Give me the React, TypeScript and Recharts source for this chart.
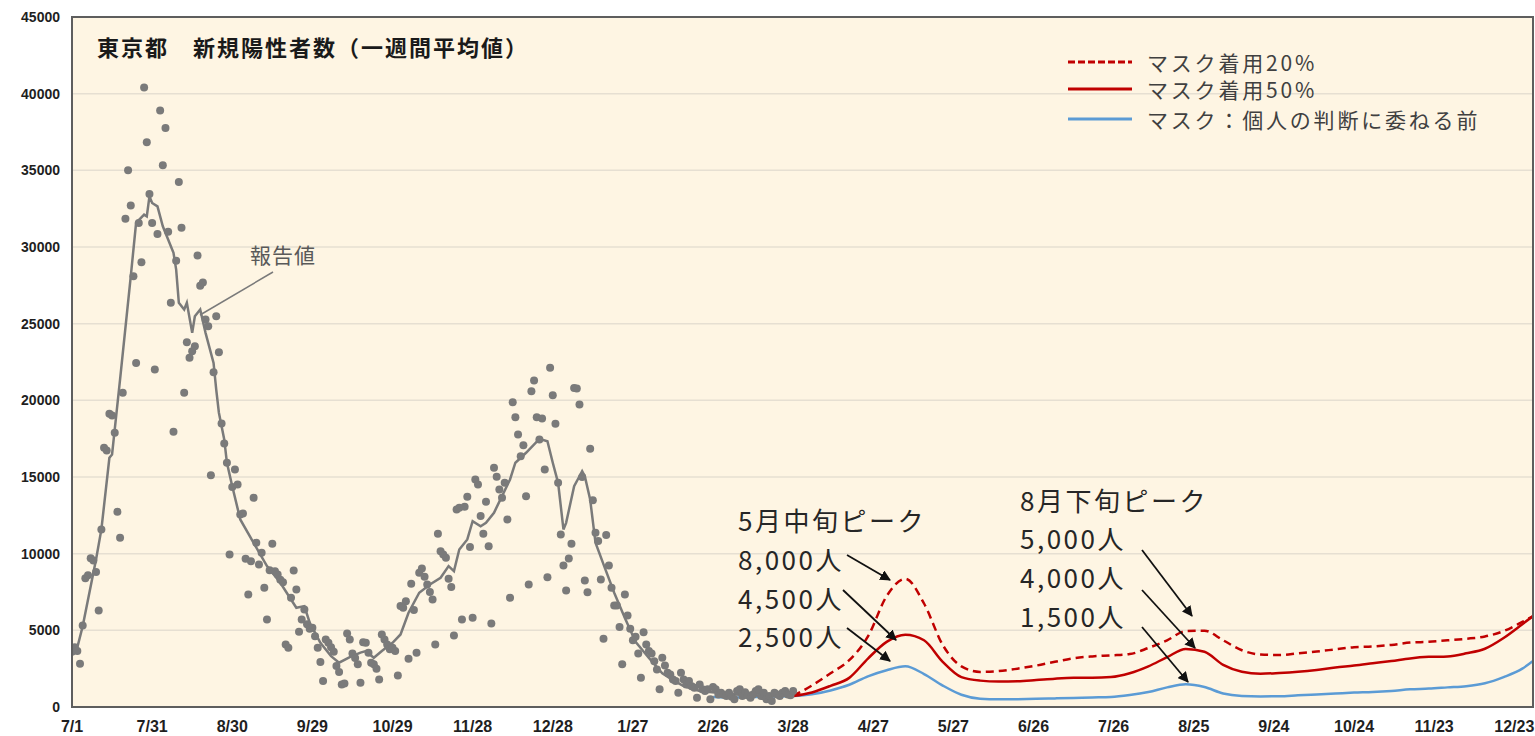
import { ComposedChart, Line, Scatter, XAxis, YAxis, CartesianGrid } from "recharts"

// x axis = days since 2022-07-01
const tickLabels = [
  "7/1", "7/31", "8/30", "9/29", "10/29", "11/28", "12/28", "1/27", "2/26", "3/28",
  "4/27", "5/27", "6/26", "7/26", "8/25", "9/24", "10/24", "11/23", "12/23",
]
const tickDays = tickLabels.map((_, i) => i * 30)
const yTicks = [0, 5000, 10000, 15000, 20000, 25000, 30000, 35000, 40000, 45000]

// 報告値: one value per day from 7/1/2022 to 3/28/2023
const reportedDaily = [
  3600, 3900, 3650, 2820, 5320, 8400, 8600, 9700, 9550, 8800,
  6300, 11580, 16900, 16730, 19120, 19010, 17880, 12730, 11040, 20490,
  31850, 35000, 32700, 28090, 22440, 31570, 29000, 40410, 36830, 33460,
  31570, 22010, 30850, 38900, 35330, 37760, 30990, 26360, 17950, 29110,
  34240, 31250, 20490, 23790, 22770, 23200, 23530, 29440, 27480, 27680,
  25270, 24830, 15120, 21830, 25480, 23140, 18490, 17180, 15930, 9950,
  14340, 15490, 14510, 12560, 12620, 9670, 7340, 9510, 13640, 10710,
  9300, 10060, 7780, 5710, 8920, 10650, 8860, 8640, 8300, 8140,
  4080, 3870, 7120, 8900, 7670, 4910, 5710, 6360, 5390, 5100,
  5170, 4620, 3870, 2930, 1690, 4410, 4190, 3900, 3600, 2670,
  2280, 1470, 1540, 4800, 4410, 3490, 3200, 2780, 1580, 4230,
  4190, 3540, 2890, 2780, 2500, 1800, 4730, 4410, 4080, 3760,
  3870, 3650, 2060, 6580, 6470, 6900, 3150, 8040, 6320, 3540,
  8760, 9040, 8500, 7990, 7500, 7010, 4080, 11300, 10160, 9950,
  9730, 8360, 7820, 4670, 12880, 12990, 5710, 13060, 13710, 10430,
  5820, 14840, 14510, 12450, 11300, 13380, 10490, 5450, 15600, 15010,
  14190, 13640, 14620, 12230, 7120, 19880, 18900, 17770, 16360, 17070,
  13750, 7990, 20590, 21290, 18900, 17450, 18810, 15490, 8470, 22120,
  20330, 18470, 14620, 11250, 9230, 7600, 9690, 10650, 20810, 20770,
  19730, 15000, 8250, 7490, 16840, 13490, 11360, 10820, 8320, 4450,
  11210, 9230, 7780, 6620, 6620, 5210, 2780, 7340, 5970, 5100,
  4360, 4580, 3490, 1910, 4880, 4080, 3650, 3490, 2990, 2450,
  1150, 3210, 2710, 2230, 2120, 1800, 1700, 930, 2230, 1800,
  1470, 1690, 1360, 1260, 610, 1470, 1150, 1040, 1150, 500,
  1300, 1150, 820, 930, 800, 710, 930, 670, 500, 1040,
  1150, 710, 970, 760, 610, 820, 1040, 1150, 710, 930,
  500, 710, 390, 930, 820, 710, 930, 1040, 820, 760,
  1040,
]

// 一週間平均値 (gray line)
const avgDays = [
  0, 2, 4, 9, 11, 14, 15, 18, 22, 24, 27, 28, 29, 30, 32, 34, 38, 39, 40, 42,
  43, 45, 46, 48, 50, 53, 54, 55, 57, 58, 60, 63, 68, 73, 78, 82, 84, 87, 89, 93,
  97, 100, 104, 108, 110, 113, 116, 120, 123, 126, 130, 134, 138, 141, 143, 145, 148, 150, 153, 155,
  158, 161, 164, 166, 170, 175, 178, 180, 182, 184, 185, 188, 190, 191, 192, 194, 196, 199, 203, 207,
  211, 216, 221, 225, 229, 235, 248, 261, 270,
]
const avgValues = [
  3600, 3900, 5270, 9620, 11580, 16250, 16470, 21360, 28090, 31570, 32110, 32000, 33300, 32870, 32650, 31350, 29620, 28530, 26360, 25920,
  26360, 24400, 25480, 25920, 24400, 22440, 20700, 19190, 17450, 15930, 14400, 12230, 10710, 9190, 8100, 7010, 6470, 6580, 5500, 4190,
  3320, 2890, 3250, 3550, 3650, 3210, 3650, 4190, 4730, 6150, 7450, 7990, 8430, 9190, 8860, 10270, 10930, 12120, 11790, 12010,
  12670, 13750, 14840, 15930, 16580, 17490, 17330, 15930, 14620, 11580, 12010, 14400, 15050, 15380, 15050, 13530, 10710, 9300, 7450, 5800,
  4250, 3200, 2200, 1750, 1360, 1040, 820, 710, 750,
]

// projections (weekly points from 3/28/2023)
const projectionDays = [
  270, 277, 284, 291, 298, 305, 312, 319, 326, 333, 340, 347, 354, 361, 368, 375, 382, 389, 396, 403,
  410, 417, 424, 431, 438, 445, 452, 459, 466, 473, 480, 487, 494, 501, 508, 515, 522, 529, 536, 543, 547,
]
const mask20 = [
  720, 1400, 2200, 3050, 4600, 7230, 8360, 6750, 4050, 2650, 2290, 2340, 2500, 2700, 2950, 3180, 3300, 3370, 3450, 3850,
  4350, 4950, 4980, 4350, 3700, 3420, 3390, 3500, 3620, 3760, 3900, 3950, 4050, 4200, 4250, 4350, 4450, 4600, 4950, 5550, 5920,
]
const mask50 = [
  720, 950, 1380, 1900, 3160, 4250, 4720, 4350, 2950, 1950, 1720, 1660, 1680, 1760, 1850, 1900, 1900, 1950, 2200, 2650,
  3250, 3780, 3600, 2750, 2300, 2170, 2220, 2300, 2420, 2580, 2700, 2850, 3000, 3170, 3270, 3300, 3500, 3800, 4500, 5400, 5930,
]
const beforeLeadDays = [240, 247, 254, 261]
const beforeLead = [650, 620, 640, 680]
const maskBefore = [
  720, 830, 1080, 1450, 2000, 2400, 2650, 2150, 1400, 800, 540, 500, 510, 530, 560, 590, 620, 650, 780, 980,
  1280, 1480, 1300, 880, 720, 690, 700, 760, 820, 880, 940, 980, 1050, 1150, 1200, 1280, 1360, 1550, 1950, 2500, 3000,
]

const legendItems = [
  { name: "マスク着用20%", color: "#C00000", dash: "7 3" },
  { name: "マスク着用50%", color: "#C00000", dash: undefined },
  { name: "マスク：個人の判断に委ねる前", color: "#5B9BD5", dash: undefined },
]

const reported = reportedDaily.map((value, day) => ({ day, value }))
const average = avgDays.map((day, i) => ({ day, value: avgValues[i] }))
const series20 = projectionDays.map((day, i) => ({ day, value: mask20[i] }))
const series50 = projectionDays.map((day, i) => ({ day, value: mask50[i] }))
const seriesBefore = [...beforeLeadDays, ...projectionDays].map((day, i) => ({
  day,
  value: [...beforeLead, ...maskBefore][i],
}))

const GRAY = "#7A7A7A"
const jpFont = "'Noto Sans CJK JP', sans-serif"
const axisFont = "'Liberation Sans', Arial, sans-serif"

function Dot(props: any) {
  return <circle cx={props.cx} cy={props.cy} r={4} fill={GRAY} />
}

function Overlay() {
  const note = { fontFamily: jpFont, fontSize: 26, fill: "#262626", letterSpacing: 2.5 }
  const legendRows = [62, 89, 119]
  return (
    <svg width={1535} height={736} style={{ position: "absolute", left: 0, top: 0, pointerEvents: "none" }}>
      <defs>
        <marker id="head" viewBox="0 0 10 10" refX="9" refY="5" markerWidth="6" markerHeight="6" orient="auto">
          <path d="M0,0 L10,5 L0,10 z" fill="#111" />
        </marker>
      </defs>
      <rect x={72} y={17} width={1461} height={690} fill="none" stroke="#5E5E5E" strokeWidth={2} />
      <text x={97} y={46} dominantBaseline="central" fontFamily={jpFont} fontSize={22} letterSpacing={2} fontWeight="bold" fill="#1A1A1A">
        東京都　新規陽性者数（一週間平均値）
      </text>

      {legendItems.map((item, i) => (
        <g key={item.name}>
          <line x1={1068} x2={1132} y1={legendRows[i]} y2={legendRows[i]} stroke={item.color} strokeWidth={3} strokeDasharray={item.dash} />
          <text x={1147} y={legendRows[i]} dominantBaseline="central" fontFamily={jpFont} fontSize={21} letterSpacing={2.8} fill="#404040">
            {item.name}
          </text>
        </g>
      ))}

      <text x={250} y={254} dominantBaseline="central" fontFamily={jpFont} fontSize={21} letterSpacing={1} fill="#595959">報告値</text>
      <line x1={273} y1={272} x2={200} y2={315} stroke={GRAY} strokeWidth={1.5} />

      <text x={738} y={519} dominantBaseline="central" {...note}>5月中旬ピーク</text>
      <text x={738} y={558} dominantBaseline="central" {...note}>8,000人</text>
      <text x={738} y={597} dominantBaseline="central" {...note}>4,500人</text>
      <text x={738} y={635} dominantBaseline="central" {...note}>2,500人</text>
      <line x1={847} y1={555} x2={890} y2={580} stroke="#111" strokeWidth={1.8} markerEnd="url(#head)" />
      <line x1={843} y1={590} x2={896} y2={640} stroke="#111" strokeWidth={1.8} markerEnd="url(#head)" />
      <line x1={847} y1={628} x2={890} y2={661} stroke="#111" strokeWidth={1.8} markerEnd="url(#head)" />

      <text x={1020} y={499} dominantBaseline="central" {...note}>8月下旬ピーク</text>
      <text x={1020} y={537} dominantBaseline="central" {...note}>5,000人</text>
      <text x={1020} y={576} dominantBaseline="central" {...note}>4,000人</text>
      <text x={1020} y={615} dominantBaseline="central" {...note}>1,500人</text>
      <line x1={1142} y1={550} x2={1192} y2={616} stroke="#111" strokeWidth={1.8} markerEnd="url(#head)" />
      <line x1={1142} y1={590} x2={1195} y2={648} stroke="#111" strokeWidth={1.8} markerEnd="url(#head)" />
      <line x1={1142} y1={627} x2={1188} y2={682} stroke="#111" strokeWidth={1.8} markerEnd="url(#head)" />
    </svg>
  )
}

export default function App() {
  return (
    <div style={{ position: "absolute", left: 0, top: 0, width: 1535, height: 736, background: "#fff" }}>
      <ComposedChart width={1535} height={736} margin={{ top: 17, right: 2, bottom: 0, left: 0 }}>
        <CartesianGrid vertical={false} stroke="#E6DFD2" strokeWidth={1.5} fill="#FEF5E3" />
        <XAxis
          type="number"
          dataKey="day"
          domain={[0, 547]}
          ticks={tickDays}
          tickFormatter={(v) => tickLabels[tickDays.indexOf(v)]}
          interval={0}
          height={29}
          tickSize={0}
          tickMargin={14}
          axisLine={{ stroke: "#5E5E5E", strokeWidth: 2 }}
          tick={{ fontSize: 16, fontWeight: "bold", fill: "#1F1F1F", fontFamily: axisFont }}
          allowDataOverflow
        />
        <YAxis
          type="number"
          domain={[0, 45000]}
          ticks={yTicks}
          interval={0}
          width={72}
          tickSize={0}
          tickMargin={12}
          axisLine={{ stroke: "#5E5E5E", strokeWidth: 2 }}
          tick={{ fontSize: 14, fontWeight: "bold", fill: "#1F1F1F", fontFamily: axisFont }}
          allowDataOverflow
        />
        <Line data={seriesBefore} dataKey="value" type="monotone" stroke="#5B9BD5" strokeWidth={2.5} dot={false} isAnimationActive={false} />
        <Line data={series50} dataKey="value" type="monotone" stroke="#C00000" strokeWidth={2.5} dot={false} isAnimationActive={false} />
        <Line data={series20} dataKey="value" type="monotone" stroke="#C00000" strokeWidth={2.5} strokeDasharray="8 5" dot={false} isAnimationActive={false} />
        <Scatter data={reported} dataKey="value" shape={Dot} isAnimationActive={false} />
        <Line data={average} dataKey="value" type="linear" stroke={GRAY} strokeWidth={2.5} dot={false} isAnimationActive={false} />
      </ComposedChart>
      <Overlay />
    </div>
  )
}
